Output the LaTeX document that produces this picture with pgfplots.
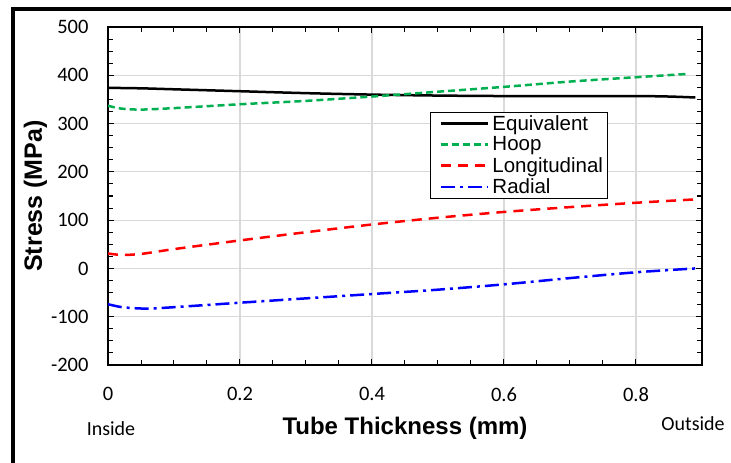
\documentclass[border=0pt]{standalone}
\usepackage{pgfplots}
\pgfplotsset{compat=1.18}
\usepackage{fontspec}
\setmainfont{Carlito}
\newfontfamily\arialfont{Liberation Sans}
\definecolor{hoopgreen}{HTML}{00B050}
\definecolor{gridgray}{HTML}{D9D9D9}
\begin{document}
\begin{tikzpicture}[x=1pt,y=1pt]
\begin{axis}[
  at={(108pt,98pt)}, anchor=south west,
  scale only axis, width=594pt, height=338pt,
  xmin=0, xmax=0.9, ymin=-200, ymax=500,
  xtick={0,0.2,0.4,0.6,0.8}, ytick={-200,-100,...,500},
  xticklabels={0,0.2,0.4,0.6,0.8},
  minor x tick num=3, minor y tick num=3,
  major tick length=6pt, minor tick length=5pt,
  tick style={black, line width=1pt},
  axis line style={line width=1.2pt},
  grid=major, major grid style={gridgray, line width=1.2pt},
  /pgf/number format/assume math mode=true,
  ticklabel style={font=\fontsize{20.5}{22}\selectfont},
  yticklabel style={xshift=-16pt},
  xticklabel style={yshift=-19pt},
  scaled ticks=false,
  xlabel={\arialfont\bfseries Tube Thickness (mm)},
  ylabel={\arialfont\bfseries Stress (MPa)},
  xlabel style={font=\fontsize{24}{26}\selectfont, yshift=-9pt},
  ylabel style={font=\fontsize{25}{27}\selectfont, yshift=-3pt},
  legend cell align=left,
  legend style={at={(0.542,0.7485)}, anchor=north west, draw=black, line width=1pt,
    font=\arialfont\fontsize{20.5}{21}\selectfont, row sep=1pt, inner xsep=2pt, inner ysep=1pt},
  legend image code/.code={\pgfpathrectangle{\pgfpoint{0pt}{-2pt}}{\pgfpoint{58pt}{4pt}}\pgfusepath{use as bounding box}\draw[#1] (9pt,0pt) -- (56pt,0pt);},
]
\addplot[black, line width=2.5pt, smooth] coordinates {
(0,374) (0.05,373) (0.1,371) (0.2,367) (0.3,363) (0.4,360) (0.5,358) (0.6,357) (0.7,357) (0.8,357) (0.85,356) (0.89,354)};
\addlegendentry{Equivalent}
\addplot[hoopgreen, line width=2.5pt, dash pattern=on 7pt off 4pt, smooth] coordinates {
(0,337) (0.02,331) (0.05,329) (0.1,332) (0.2,340) (0.3,347) (0.4,356) (0.5,366) (0.6,376) (0.7,387) (0.8,396) (0.88,403)};
\addlegendentry{Hoop}
\addplot[red, line width=2.5pt, dash pattern=on 10pt off 7pt, smooth] coordinates {
(0,31) (0.02,28) (0.05,30) (0.1,40) (0.2,58) (0.3,75) (0.4,91) (0.5,105) (0.6,117) (0.7,127) (0.8,136) (0.89,143)};
\addlegendentry{Longitudinal}
\addplot[blue, line width=2.5pt, dash pattern=on 14pt off 5pt on 3pt off 5pt, smooth] coordinates {
(0,-74) (0.02,-80) (0.05,-83) (0.08,-82) (0.2,-71) (0.3,-62) (0.4,-53) (0.5,-44) (0.6,-33) (0.7,-20) (0.8,-8) (0.89,0)};
\addlegendentry{Radial}
\end{axis}
\node[font=\fontsize{20}{22}\selectfont] at (111pt,34pt) {Inside};
\node[font=\fontsize{20}{22}\selectfont] at (693pt,39pt) {Outside};
\draw[line width=4pt] (13pt,0pt) -- (13pt,454pt) -- (731pt,454pt);
\pgfresetboundingbox
\useasboundingbox (0pt,0pt) rectangle (731pt,463pt);
\end{tikzpicture}
\end{document}
